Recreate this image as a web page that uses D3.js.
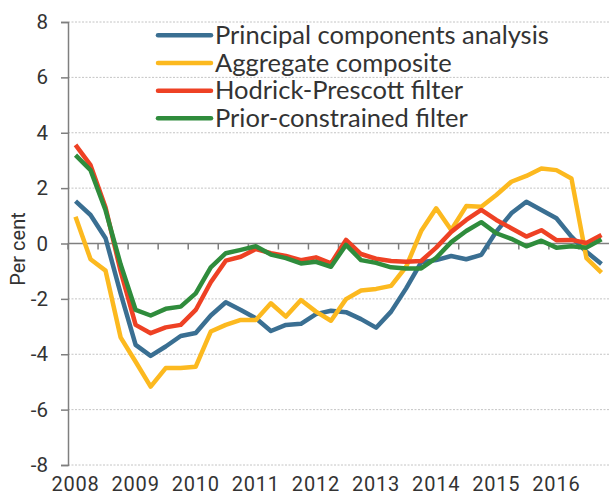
<!DOCTYPE html>
<html><head><meta charset="utf-8">
<script src="https://cdn.jsdelivr.net/npm/d3@7"></script>
<style>html,body{margin:0;padding:0;background:#fff;}svg{display:block;}</style>
</head><body><svg id="c" width="609" height="497"></svg>
<script>
const years = ["2008","2009","2010","2011","2012","2013","2014","2015","2016"];
const quarterNames = ["Q1","Q2","Q3","Q4"];
const yTicks = [-8,-6,-4,-2,0,2,4,6,8];
const seriesNames = ["Principal components analysis","Aggregate composite","Hodrick-Prescott filter","Prior-constrained filter"];
const pca = [1.53,1.03,0.19,-1.8,-3.66,-4.06,-3.72,-3.34,-3.23,-2.6,-2.12,-2.4,-2.7,-3.16,-2.94,-2.9,-2.55,-2.43,-2.48,-2.73,-3.04,-2.46,-1.62,-0.68,-0.6,-0.45,-0.57,-0.41,0.43,1.09,1.51,1.21,0.91,0.25,-0.3,-0.74];
const aggregate = [0.97,-0.57,-0.98,-3.39,-4.27,-5.17,-4.5,-4.5,-4.45,-3.18,-2.94,-2.76,-2.76,-2.16,-2.64,-2.04,-2.46,-2.79,-2.01,-1.70,-1.64,-1.53,-0.84,0.45,1.27,0.49,1.35,1.33,1.75,2.23,2.44,2.71,2.65,2.35,-0.53,-1.05];
const hodrick = [3.56,2.83,1.3,-1.0,-2.94,-3.24,-3.03,-2.94,-2.4,-1.4,-0.62,-0.48,-0.2,-0.35,-0.45,-0.6,-0.5,-0.72,0.13,-0.38,-0.55,-0.63,-0.66,-0.63,-0.15,0.42,0.85,1.21,0.85,0.55,0.25,0.48,0.12,0.13,0.02,0.31];
const prior = [3.19,2.65,1.2,-0.75,-2.4,-2.6,-2.36,-2.28,-1.8,-0.86,-0.35,-0.23,-0.1,-0.4,-0.53,-0.72,-0.66,-0.84,-0.05,-0.6,-0.7,-0.86,-0.9,-0.9,-0.52,0.05,0.45,0.77,0.37,0.17,-0.1,0.1,-0.15,-0.1,-0.15,0.15];
const colors = ["#3a6f92","#fcb91f","#ee4124","#2f8c3c"];

const quarters = [];
years.forEach(yr => quarterNames.forEach(q => quarters.push(yr + " " + q)));
const allSeries = [pca, aggregate, hodrick, prior];

const svg = d3.select("#c");
const mLeft = 68, mRight = 609, mTop = 22, mBottom = 465;
const x = d3.scaleBand().domain(quarters).range([mLeft, mRight]).padding(0);
const y = d3.scaleLinear().domain([-8, 8]).range([mBottom, mTop]);
const cx = q => x(q) + x.bandwidth() / 2;

// gridlines
svg.append("g").selectAll("line").data(yTicks.filter(d => d !== 0)).join("line")
  .attr("x1", mLeft).attr("x2", mRight)
  .attr("y1", d => y(d)).attr("y2", d => y(d))
  .attr("stroke", "#c4c4c4").attr("stroke-width", 1).attr("stroke-dasharray", "2,1.5");

// y axis
const yAxis = d3.axisLeft(y).tickValues(yTicks).tickSize(7).tickPadding(13).tickFormat(d => String(d));
const gy = svg.append("g").attr("transform", `translate(${mLeft},0)`).call(yAxis);
gy.select(".domain").attr("stroke", "#7f7f7f").attr("stroke-width", 1.5);
gy.selectAll(".tick line").attr("stroke", "#7f7f7f").attr("stroke-width", 1.5);
gy.selectAll(".tick text").attr("fill", "#333").style("font-family", "Roboto, 'Liberation Sans', sans-serif").style("font-size", "20.5px");

// zero axis with ticks every 2 quarters
const gx = svg.append("g").attr("transform", `translate(0,${y(0)})`);
gx.append("line").attr("x1", mLeft).attr("x2", mRight).attr("stroke", "#7f7f7f").attr("stroke-width", 1.5);
gx.selectAll("line.t").data(quarters.filter((q, i) => i % 2 === 0)).join("line").attr("class", "t")
  .attr("x1", d => x(d)).attr("x2", d => x(d)).attr("y1", 0).attr("y2", 6)
  .attr("stroke", "#7f7f7f").attr("stroke-width", 1.5);

// year labels at bottom (at Q1 of each year)
svg.append("g").selectAll("text").data(years).join("text")
  .attr("x", d => cx(d + " Q1")).attr("y", 491)
  .attr("text-anchor", "middle").attr("fill", "#333")
  .style("font-family", "Roboto, 'Liberation Sans', sans-serif").style("font-size", "20px")
  .style("letter-spacing", "0.8px")
  .text(d => d);

// y axis title
svg.append("text").attr("transform", "translate(25,249) rotate(-90)")
  .attr("text-anchor", "middle").attr("fill", "#333")
  .style("font-family", "Roboto, 'Liberation Sans', sans-serif").style("font-size", "20px")
  .text("Per cent");

// lines
const line = d3.line().x((d, i) => cx(quarters[i])).y(d => y(d));
svg.append("g").selectAll("path").data(allSeries).join("path")
  .attr("d", d => line(d)).attr("fill", "none")
  .attr("stroke", (d, i) => colors[i]).attr("stroke-width", 4.5)
  .attr("stroke-linejoin", "round");

// legend
const leg = svg.append("g");
const legY = [35.3, 63, 90.7, 118.3];
seriesNames.forEach((n, i) => {
  leg.append("line").attr("x1", 158).attr("x2", 211).attr("y1", legY[i]).attr("y2", legY[i])
    .attr("stroke", colors[i]).attr("stroke-width", 4.5).attr("stroke-linecap", "round");
  leg.append("text").attr("x", 215).attr("y", legY[i] + 8.5).attr("fill", "#333")
    .style("font-family", "Lato, 'Open Sans', sans-serif").style("font-size", "25.5px").text(n);
});
</script></body></html>
